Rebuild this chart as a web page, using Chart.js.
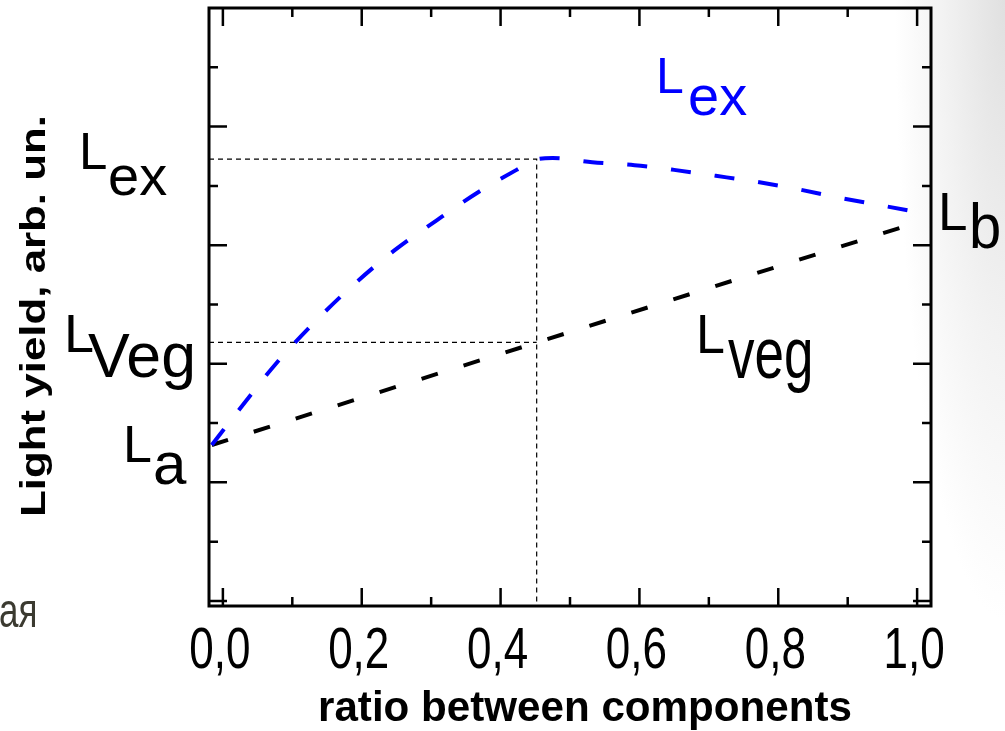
<!DOCTYPE html>
<html>
<head>
	<meta http-equiv="Content-Type" content="text/html; charset=utf-8">
	<title>Light yield</title>
	<script src="https://cdn.jsdelivr.net/npm/chart.js@4/dist/chart.umd.min.js"></script>
	<style>
		html, body { margin: 0; padding: 0; }
		body {
			width: 1005px; height: 731px; overflow: hidden;
			background: radial-gradient(ellipse 110px 620px at 100% 0%, #e0e0e0 0%, #f2f2f2 55%, #ffffff 100%);
		}
		#wrap { position: absolute; left: 0; top: 0; width: 1005px; height: 731px; }
	</style>
</head>
<body>
<div id="wrap"><canvas id="lyChart" width="1005" height="731"></canvas></div>

<script>
// values
const blueX = [-0.016, 0.029, 0.077, 0.131, 0.188, 0.248, 0.308, 0.366, 0.423, 0.452,
	0.475, 0.532, 0.593, 0.650, 0.710, 0.768, 0.826, 0.884, 0.944, 1.013];
const blueY = [2.63, 3.31, 4.01, 4.69, 5.33, 5.92, 6.42, 6.88, 7.27, 7.45,
	7.47, 7.40, 7.35, 7.27, 7.17, 7.07, 6.95, 6.81, 6.68, 6.53];
const blackX = [-0.016, 1.010];
const blackY = [2.63, 6.42];

const guideX = 0.452;     // ratio of the dotted vertical line
const lexLevel = 7.45;    // Lex level
const lvegLevel = 4.36;   // LVeg level

const xLimits = [-0.02, 1.02];
const yLimits = [-0.085, 10];
const xTicks = [0, 0.2, 0.4, 0.6, 0.8, 1.0];
const xMinor = [0.1, 0.3, 0.5, 0.7, 0.9];
const yMajor = [0, 2, 4, 6, 8];
const yMinor = [1, 3, 5, 7, 9];

function pts(xs, ys) {
	return xs.map((x, i) => ({ x: x, y: ys[i] }));
}

// text helper: x, y = baseline start, sx/sy stretch
function txt(ctx, s, x, y, size, color, sx, sy, weight, align) {
	ctx.save();
	ctx.translate(x, y);
	ctx.scale(sx || 1, sy || 1);
	ctx.font = (weight || "normal") + " " + size + "px 'Liberation Sans', Arial, sans-serif";
	ctx.fillStyle = color;
	ctx.textAlign = align || "left";
	ctx.textBaseline = "alphabetic";
	ctx.fillText(s, 0, 0);
	ctx.restore();
}

const framePlugin = {
	id: "frame",
	afterDatasetsDraw(chart) {
		const ctx = chart.ctx;
		const a = chart.chartArea;
		const xs = chart.scales.x, ys = chart.scales.y;
		ctx.save();
		ctx.strokeStyle = "#000";
		ctx.lineWidth = 3;
		ctx.strokeRect(a.left, a.top, a.right - a.left, a.bottom - a.top);
		ctx.lineWidth = 2.5;
		ctx.beginPath();
		function yt(v, len) {
			const p = ys.getPixelForValue(v);
			ctx.moveTo(a.left, p); ctx.lineTo(a.left + len, p);
			ctx.moveTo(a.right, p); ctx.lineTo(a.right - len, p);
		}
		function xt(v, len) {
			const p = xs.getPixelForValue(v);
			ctx.moveTo(p, a.bottom); ctx.lineTo(p, a.bottom - len);
			ctx.moveTo(p, a.top); ctx.lineTo(p, a.top + len);
		}
		yMajor.forEach(v => yt(v, 18));
		yMinor.forEach(v => yt(v, 9));
		xTicks.forEach(v => xt(v, 18));
		xMinor.forEach(v => xt(v, 9));
		ctx.stroke();
		ctx.restore();

		// x tick labels from the scale's own ticks, tall and narrow like the picture
		xs.ticks.forEach(t => {
			const p = xs.getPixelForValue(t.value);
			txt(ctx, t.value.toFixed(1).replace(".", ","), p - 3, 668, 44, "#000", 1, 1.3, "normal", "center");
		});
	},
	afterDraw(chart) {
		const ctx = chart.ctx;
		// labels
		txt(ctx, "L", 656, 93, 50, "#0000ff");
		txt(ctx, "ex", 688, 115, 56, "#0000ff");
		txt(ctx, "L", 79, 169, 51, "#000");
		txt(ctx, "ex", 108, 195, 56, "#000");
		txt(ctx, "L", 64, 352, 54, "#000");
		txt(ctx, "Veg", 88, 377, 58, "#000", 1.08, 1.1);
		txt(ctx, "L", 123, 462, 52, "#000");
		txt(ctx, "a", 153, 484, 60, "#000");
		txt(ctx, "L", 938, 230, 53, "#000");
		txt(ctx, "b", 969, 248, 58, "#000", 1, 1.1);
		txt(ctx, "L", 696, 353, 52, "#000", 1, 1.07);
		txt(ctx, "veg", 728, 378, 53, "#000", 1, 1.35);
		txt(ctx, "ая", -1, 627, 38, "#3b3a30", 0.92, 1.25);

		// axis titles, stretched to the width seen in the picture
		ctx.save();
		ctx.font = "bold 40px 'Liberation Sans', Arial, sans-serif";
		let s = "ratio between components";
		let w = ctx.measureText(s).width;
		ctx.restore();
		txt(ctx, s, 318, 721, 40, "#000", 534 / w, 1.05, "bold");

		ctx.save();
		ctx.font = "bold 35px 'Liberation Sans', Arial, sans-serif";
		s = "Light yield, arb. un.";
		w = ctx.measureText(s).width;
		ctx.translate(45, 316);
		ctx.rotate(-Math.PI / 2);
		ctx.scale(402 / w, 1);
		ctx.fillStyle = "#000";
		ctx.textAlign = "center";
		ctx.fillText(s, 0, 0);
		ctx.restore();
	}
};

const lyChart = new Chart(document.getElementById("lyChart"), {
	type: "line",
	data: {
		datasets: [
			{
				label: "Lex",
				data: pts(blueX, blueY),
				borderColor: "#0000ff",
				borderWidth: 4,
				borderDash: [20, 24],
				cubicInterpolationMode: "monotone",
				pointRadius: 0
			},
			{
				label: "Lveg",
				data: pts(blackX, blackY),
				borderColor: "#000000",
				borderWidth: 4,
				borderDash: [17, 27],
				pointRadius: 0
			},
			{
				label: "guide ex",
				data: [{ x: xLimits[0], y: lexLevel }, { x: guideX, y: lexLevel }, { x: guideX, y: yLimits[0] }],
				borderColor: "#000000",
				borderWidth: 1.2,
				borderDash: [5, 4],
				pointRadius: 0
			},
			{
				label: "guide veg",
				data: [{ x: xLimits[0], y: lvegLevel }, { x: guideX, y: lvegLevel }],
				borderColor: "#000000",
				borderWidth: 1.2,
				borderDash: [5, 4],
				pointRadius: 0
			}
		]
	},
	options: {
		responsive: false,
		animation: false,
		layout: { padding: { top: 8, right: 74, bottom: 0, left: 0 } },
		plugins: { legend: { display: false }, tooltip: { enabled: false } },
		scales: {
			x: {
				type: "linear",
				min: xLimits[0], max: xLimits[1],
				grid: { display: false },
				border: { display: false },
				afterBuildTicks: s => { s.ticks = xTicks.map(v => ({ value: v })); },
				afterFit: s => { s.height = 125; },
				ticks: { display: false }
			},
			y: {
				type: "linear",
				min: yLimits[0], max: yLimits[1],
				grid: { display: false },
				border: { display: false },
				ticks: { display: false },
				afterFit: s => { s.width = 209; }
			}
		}
	},
	plugins: [framePlugin]
});
</script>
</body>
</html>
